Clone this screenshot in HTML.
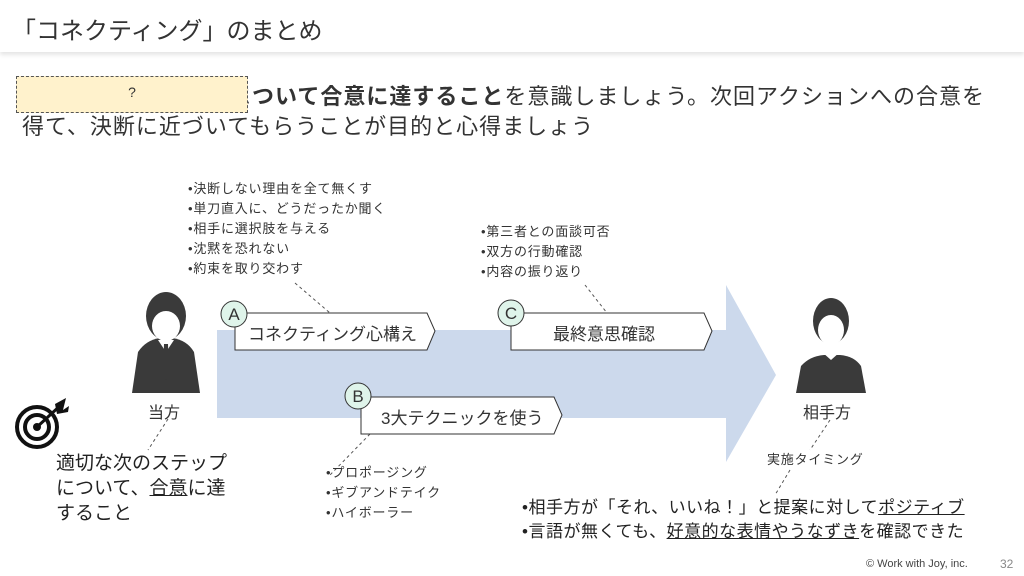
<!DOCTYPE html>
<html><head><meta charset="utf-8"><style>
*{margin:0;padding:0;box-sizing:border-box}
body{width:1024px;height:576px;position:relative;background:#fff;font-family:"Liberation Sans","Noto Sans CJK JP",sans-serif;color:#333;overflow:hidden}
.a{position:absolute;white-space:nowrap}
.s{font-size:13px;line-height:20px;color:#333;letter-spacing:0.8px}
u{text-decoration:underline}
</style></head><body>
<div class="a" style="left:0;top:0;width:1024px;height:52px;background:#fff;box-shadow:0 3px 4px #e6e6e6"></div>
<div class="a" style="left:12px;top:11px;font-size:24px;color:#333">「コネクティング」のまとめ</div>

<div class="a" style="left:22px;top:82px;font-size:22px;line-height:30px;color:#333;letter-spacing:1px">適切な次のステップに<b>ついて合意に達すること</b>を意識しましょう。次回アクションへの合意を<br>得て、決断に近づいてもらうことが目的と心得ましょう</div>
<div class="a" style="left:16px;top:76px;width:232px;height:37px;background:#fff2cc;border:1px dashed #555;font-size:14px;text-align:center;line-height:30px;color:#333">?</div>

<svg class="a" style="left:0;top:0" width="1024" height="576">
<polygon points="217,330 726,330 726,285 776,375 726,462 726,418 217,418" fill="#ccd9ec"/>
<g stroke="#555" stroke-dasharray="3,3" fill="none" stroke-width="1">
<line x1="295" y1="283" x2="330" y2="313"/>
<line x1="585" y1="285" x2="607" y2="313"/>
<line x1="370" y1="434" x2="330" y2="475"/>
<line x1="168" y1="419" x2="148" y2="450"/>
<line x1="830" y1="420" x2="810" y2="450"/>
<line x1="790" y1="470" x2="775" y2="495"/>
</g>
<g stroke="#333" fill="#fff" stroke-width="1">
<polygon points="235,313 427,313 435,331 427,350 235,350"/>
<polygon points="511,313 704,313 712,331 704,350 511,350"/>
<polygon points="361,397 554,397 562,415 554,434 361,434"/>
<circle cx="234" cy="314" r="13" fill="#dff4ea"/>
<circle cx="511" cy="313" r="13" fill="#dff4ea"/>
<circle cx="358" cy="396" r="13" fill="#dff4ea"/>
</g>
<g font-size="17" fill="#333" text-anchor="middle" font-family="Liberation Sans,Noto Sans CJK JP,sans-serif">
<text x="234" y="320">A</text><text x="511" y="319">C</text><text x="358" y="402">B</text>
</g>
<g fill="#3a3a3a">
<path d="M132,393 L138,352 Q146,340 160,338 L172,338 Q187,340 194,352 L200,393 Z"/>
<ellipse cx="166" cy="316" rx="20" ry="24"/>
</g>
<ellipse cx="166" cy="326" rx="14" ry="15" fill="#fff"/>
<polygon points="158,340 166,352 174,340" fill="#fff"/>
<polygon points="164,344 168,344 169,375 166,380 163,375" fill="#3a3a3a"/>
<g fill="#3a3a3a">
<path d="M796,393 L801,366 Q810,356 824,355 L840,355 Q854,356 861,366 L866,393 Z"/>
<ellipse cx="831" cy="321" rx="18" ry="23"/>
</g>
<ellipse cx="831" cy="330" rx="13" ry="15" fill="#fff"/>
<polygon points="822,352 831,360 840,352" fill="#fff"/>
<g fill="none" stroke="#111" stroke-width="4">
<circle cx="37" cy="427" r="20"/><circle cx="37" cy="427" r="12"/>
</g>
<circle cx="37" cy="427" r="4" fill="#111"/>
<line x1="37" y1="427" x2="62" y2="404" stroke="#111" stroke-width="3"/>
<polygon points="55,404 66,398 63,410 69,406 68,412 57,414" fill="#111"/>
</svg>

<div class="a" style="left:248px;top:320px;font-size:17px;color:#333">コネクティング心構え</div>
<div class="a" style="left:553px;top:320px;font-size:17px;color:#333">最終意思確認</div>
<div class="a" style="left:381px;top:404px;font-size:17px;color:#333">3大テクニックを使う</div>

<div class="a s" style="left:188px;top:179px">•決断しない理由を全て無くす<br>•単刀直入に、どうだったか聞く<br>•相手に選択肢を与える<br>•沈黙を恐れない<br>•約束を取り交わす</div>
<div class="a s" style="left:481px;top:222px">•第三者との面談可否<br>•双方の行動確認<br>•内容の振り返り</div>
<div class="a s" style="left:326px;top:463px">•プロポージング<br>•ギブアンドテイク<br>•ハイボーラー</div>
<div class="a s" style="left:767px;top:450px">実施タイミング</div>

<div class="a" style="left:148px;top:399px;font-size:16px">当方</div>
<div class="a" style="left:803px;top:399px;font-size:16px">相手方</div>

<div class="a" style="left:56px;top:451px;font-size:19px;line-height:25px;color:#222">適切な次のステップ<br>について、<u>合意</u>に達<br>すること</div>

<div class="a" style="left:522px;top:496px;font-size:17px;line-height:24px;color:#222;letter-spacing:0.5px">•相手方が「それ、いいね！」と提案に対して<u>ポジティブ</u><br>•言語が無くても、<u>好意的な表情やうなずき</u>を確認できた</div>

<div class="a" style="left:866px;top:558px;font-size:11px;color:#444">© Work with Joy, inc.</div>
<div class="a" style="left:1000px;top:557px;font-size:12px;color:#888">32</div>
</body></html>
